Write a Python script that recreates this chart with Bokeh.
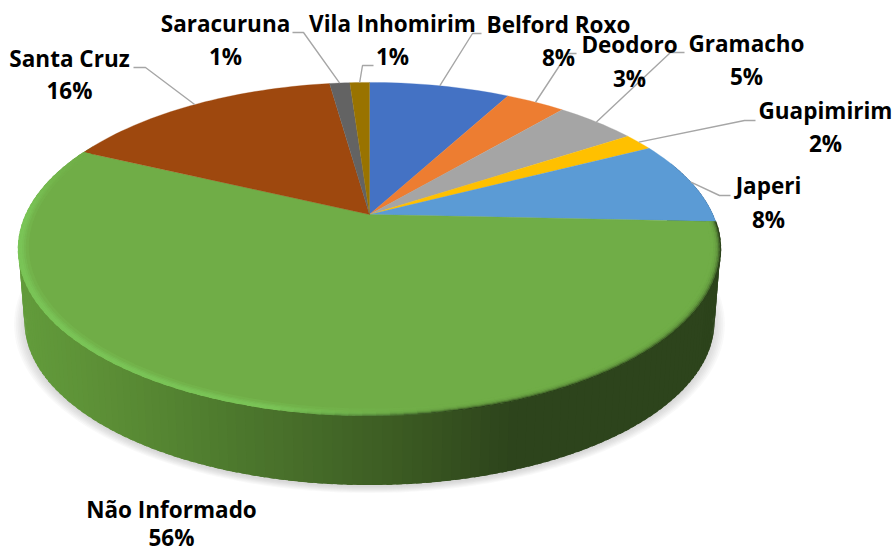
import math
from bokeh.plotting import figure
from bokeh.models import ColumnDataSource
from bokeh.core.properties import value
from bokeh.embed import file_html
from bokeh.resources import INLINE

# ---------- data ----------
categories = ["Belford Roxo", "Deodoro", "Gramacho", "Guapimirim", "Japeri",
              "Não Informado", "Santa Cruz", "Saracuruna", "Vila Inhomirim"]
values = [7.9, 3.35, 4.55, 1.7, 8.2, 56.3, 15.76, 1.14, 1.1]
pct_labels = ["8%", "3%", "5%", "2%", "8%", "56%", "16%", "1%", "1%"]
colors = ["#4472c4", "#ed7d31", "#a5a5a5", "#ffc000", "#5b9bd5",
          "#70ad47", "#9e480e", "#636363", "#997300"]

# ---------- layout ----------
CX, CY = 369.0, 214.0
R, H, K = 343.4, 159.4, 0.207
DEPTH, BS = 73.0, 0.983

label_pos = {  # name centre x, name y, pct y
    "Belford Roxo": (558, 24, 57), "Deodoro": (629, 44, 78), "Gramacho": (746, 43, 76),
    "Guapimirim": (825, 110, 143), "Japeri": (768, 185, 219), "Não Informado": (171, 509, 537),
    "Santa Cruz": (69, 58, 90), "Saracuruna": (225, 23, 56), "Vila Inhomirim": (392, 23, 56),
}
elbows = {  # (label-side end), (elbow)
    "Belford Roxo": ((481, 33), (472, 33)), "Deodoro": ((576, 53), (567, 53)),
    "Gramacho": ((684, 52), (670, 52)), "Guapimirim": ((755, 120), (744, 120)),
    "Japeri": ((730, 195), (719, 195)), "Santa Cruz": ((133, 67), (145, 67)),
    "Saracuruna": ((292, 32), (303, 32)), "Vila Inhomirim": ((373, 65), (362, 65)),
}


def proj(theta, r=1.0, dz=0.0, s=1.0):
    u, v = math.sin(theta) * r, math.cos(theta) * r
    d = 1 + K * v
    return CX + s * R * u / d, CY + dz - s * H * v / d


def hex2rgb(h):
    return tuple(int(h[i:i + 2], 16) for i in (1, 3, 5))


def rgb2hex(c):
    return "#%02x%02x%02x" % tuple(max(0, min(255, int(round(a)))) for a in c)


def mix(a, b, t):
    t = max(0.0, min(1.0, t))
    return tuple(a[i] + (b[i] - a[i]) * t for i in range(3))


def ramp(x, stops):
    if x <= stops[0][0]:
        return hex2rgb(stops[0][1])
    for (x0, c0), (x1, c1) in zip(stops, stops[1:]):
        if x <= x1:
            return mix(hex2rgb(c0), hex2rgb(c1), (x - x0) / (x1 - x0))
    return hex2rgb(stops[-1][1])


WALL = [(22, "#629b3b"), (100, "#5c8f36"), (200, "#507e2f"), (300, "#466c29"),
        (400, "#3b5a22"), (447, "#35501f"), (510, "#2d441c"), (900, "#2c431b")]

total = sum(values)
bounds = [0.0]
for val in values:
    bounds.append(bounds[-1] + val / total * 2 * math.pi)

p = figure(width=894, height=554, x_range=(0, 894), y_range=(554, 0),
           output_backend="svg", toolbar_location=None, min_border=0)
p.axis.visible = False
p.grid.visible = False
p.outline_line_color = None
p.background_fill_color = "#ffffff"
p.border_fill_color = "#ffffff"

# shadow
sx, sy = [], []
for i in range(7):
    s = BS * (1.03 - i * 0.005)
    pts = [proj(2 * math.pi * j / 180, dz=DEPTH + 2, s=s) for j in range(180)]
    sx.append([a for a, _ in pts])
    sy.append([b for _, b in pts])
p.patches(sx, sy, fill_color="#808080", fill_alpha=0.05, line_color=None)

# wall: overlapping strips so no seams show
wx, wy, wc = [], [], []
idx_green = categories.index("Não Informado")
steps = 170
start, end = math.radians(70), bounds[idx_green + 1] + math.radians(2)
for n in range(steps):
    t0 = start + (end - start) * n / steps
    t1 = start + (end - start) * (n + 1.6) / steps
    a, b = proj(t0), proj(t1)
    c, d = proj(t1, dz=DEPTH, s=BS), proj(t0, dz=DEPTH, s=BS)
    wx.append([a[0], b[0], c[0], d[0]])
    wy.append([a[1], b[1], c[1], d[1]])
    mid = (t0 + t1) / 2
    xm = (a[0] + b[0]) / 2
    wc.append("#1f3f60" if mid < bounds[idx_green] else rgb2hex(ramp(xm, WALL)))
p.patches(wx, wy, fill_color=wc, line_color=None)

# top faces
tx, ty = [], []
for i in range(len(values)):
    nseg = max(4, int((bounds[i + 1] - bounds[i]) / math.radians(1.5)))
    pts = [proj(bounds[i] + (bounds[i + 1] - bounds[i]) * j / nseg) for j in range(nseg + 1)]
    tx.append([CX] + [a for a, _ in pts])
    ty.append([CY] + [b for _, b in pts])
p.patches(tx, ty, fill_color=colors, line_color=colors, line_width=0.3)

# bevel on the green slice: outermost ring first
top = hex2rgb(colors[idx_green])
hl = hex2rgb("#7ac457")
dark = hex2rgb("#2c431b")
bx, by, bc = [], [], []
g0, g1 = bounds[idx_green], bounds[idx_green + 1]
rings = [0.972, 0.978, 0.983, 0.988, 0.992, 0.996, 1.0]
ns = 110
for k in range(len(rings) - 2, -1, -1):
    r0, r1 = rings[k], rings[k + 1]
    for n in range(ns):
        t0 = g0 + (g1 - g0) * n / ns
        t1 = g0 + (g1 - g0) * min(n + 1.5, ns) / ns
        xm = proj((t0 + t1) / 2)[0]
        deg = math.degrees((t0 + t1) / 2)
        a, b = proj(t0, r0), proj(t1, r0)
        c, d = proj(t1, r1 + 0.002), proj(t0, r1 + 0.002)
        f = (k + 1) / (len(rings) - 1)
        strength = min(1.0, max(0.0, (295 - deg) / 25.0))
        hl_col = mix(top, hl, min(1.0, f * 1.6) * strength)
        dk_col = mix(top, dark, f ** 3)
        w = max(0.0, min(1.0, (xm - 270) / 190.0))
        col = mix(hl_col, dk_col, w)
        bx.append([a[0], b[0], c[0], d[0]])
        by.append([a[1], b[1], c[1], d[1]])
        bc.append(rgb2hex(col))
p.patches(bx, by, fill_color=bc, line_color=None)

# leader lines
lx, ly = [], []
for i, name in enumerate(categories):
    if name not in elbows:
        continue
    mid = (bounds[i] + bounds[i + 1]) / 2
    ax, ay = proj(mid)
    e0, e1 = elbows[name]
    lx.append([e0[0], e1[0], ax])
    ly.append([e0[1], e1[1], ay])
p.multi_line(lx, ly, line_color="#a6a6a6", line_width=1.4)

# labels
src = ColumnDataSource(dict(
    x=[label_pos[c][0] for c in categories],
    y1=[label_pos[c][1] for c in categories],
    y2=[label_pos[c][2] for c in categories],
    name=categories, pct=pct_labels))
common = dict(text_font=value("Open Sans"), text_font_style="bold", text_font_size="22.5px",
              text_color="#000000", text_align="center", text_baseline="middle", source=src)
p.text(x="x", y="y1", text="name", **common)
p.text(x="x", y="y2", text="pct", **common)

open("out.html", "w").write(file_html(p, INLINE))
